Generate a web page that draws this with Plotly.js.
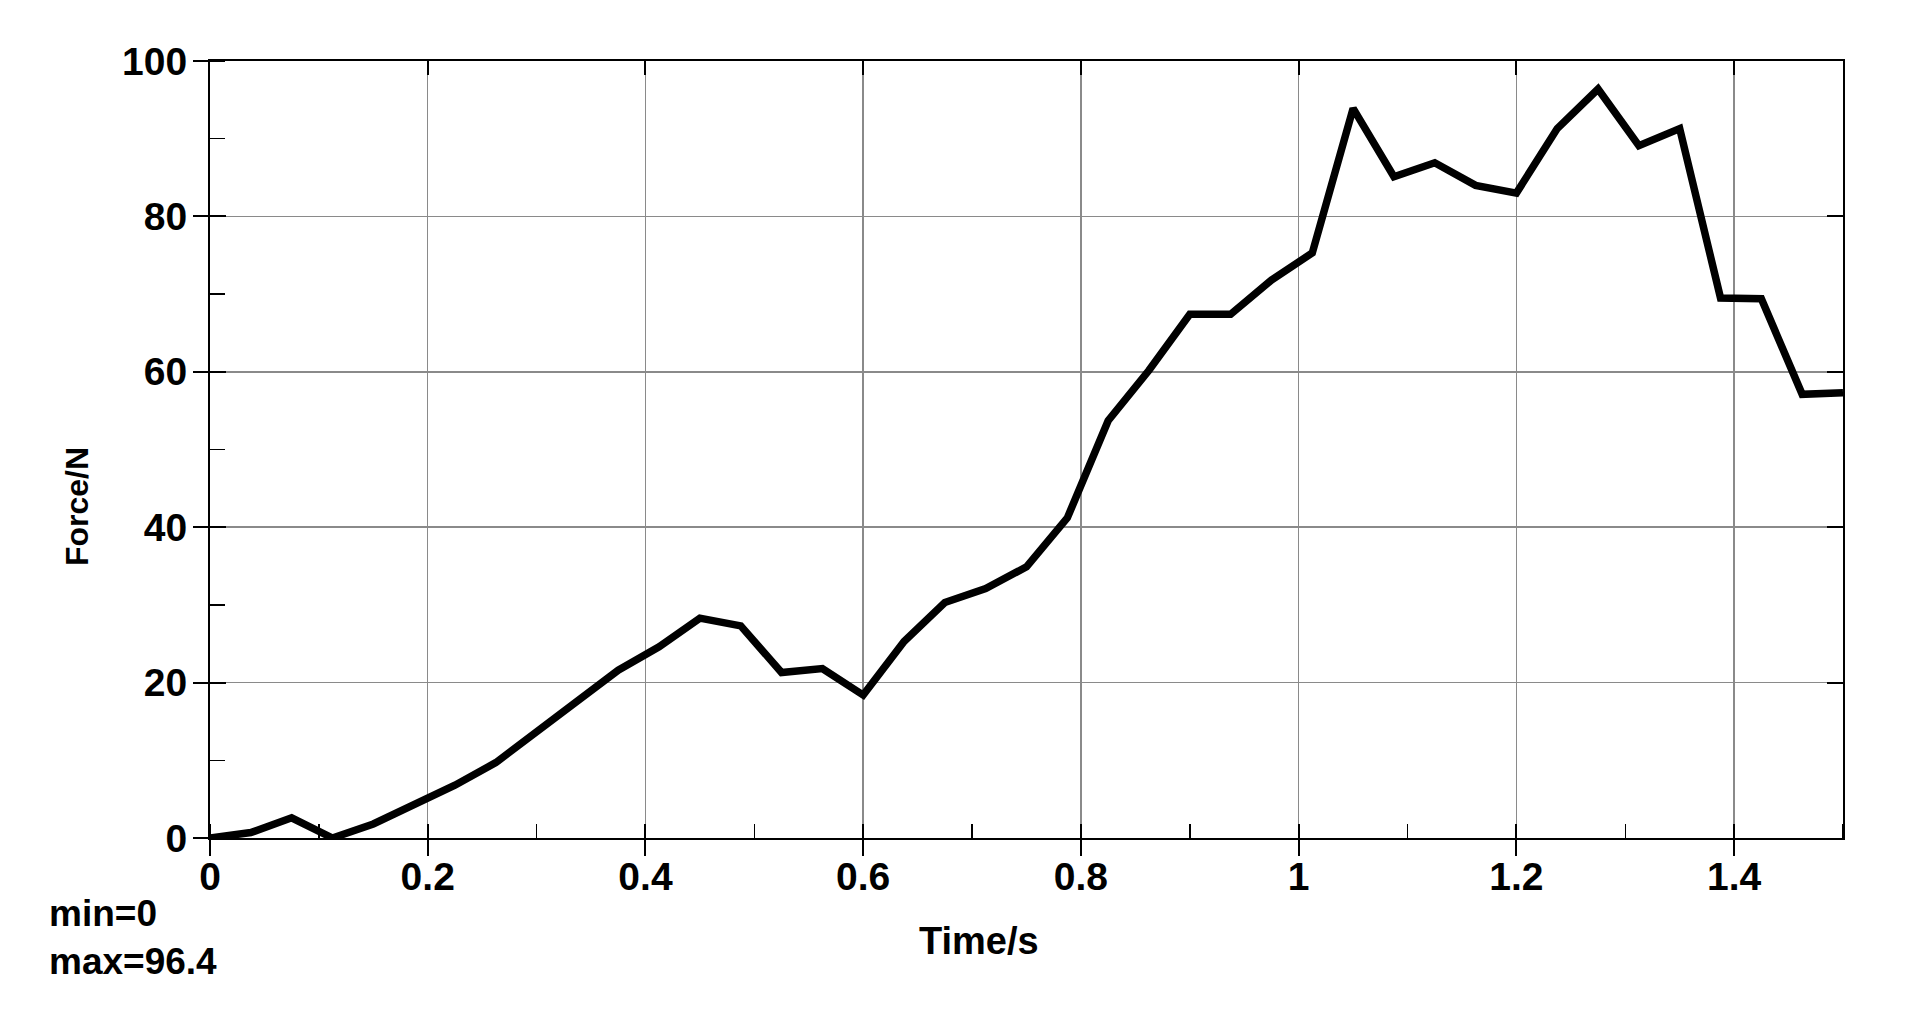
<!DOCTYPE html>
<html>
<head>
<meta charset="utf-8">
<script src="https://cdn.plot.ly/plotly-3.0.1.min.js"></script>
<style>
  html, body { margin: 0; padding: 0; background: #ffffff; }
  #chart { width: 1908px; height: 1009px; }
</style>
</head>
<body>
<div id="chart"></div>
<script>
// Time axis samples (s)
const timeS = [0, 0.0375, 0.075, 0.1125, 0.15, 0.1875, 0.225, 0.2625, 0.3, 0.3375,
  0.375, 0.4125, 0.45, 0.4875, 0.525, 0.5625, 0.6, 0.6375, 0.675, 0.7125,
  0.75, 0.7875, 0.825, 0.8625, 0.9, 0.9375, 0.975, 1.0125, 1.05, 1.0875,
  1.125, 1.1625, 1.2, 1.2375, 1.275, 1.3125, 1.35, 1.3875, 1.425, 1.4625, 1.5];
// Force values (N)
const forceN = [0, 0.7, 2.6, 0, 1.8, 4.3, 6.8, 9.7, 13.6, 17.4,
  21.6, 24.6, 28.3, 27.3, 21.3, 21.8, 18.4, 25.3, 30.3, 32.1,
  34.9, 41.2, 53.7, 60.2, 67.4, 67.4, 71.8, 75.3, 93.9, 85.1,
  86.9, 84.0, 83.0, 91.3, 96.4, 89.1, 91.3, 69.5, 69.4, 57.1, 57.3];
// Tick values / labels
const xTicks = [0, 0.2, 0.4, 0.6, 0.8, 1, 1.2, 1.4];
const xTickText = ['0', '0.2', '0.4', '0.6', '0.8', '1', '1.2', '1.4'];
const yTicks = [0, 20, 40, 60, 80, 100];
const yTickText = ['0', '20', '40', '60', '80', '100'];
const xTitle = 'Time/s';
const yTitle = 'Force/N';

const FONT = '"Liberation Sans", Arial, sans-serif';
const tickFont = { family: FONT, size: 39, color: '#000000', weight: 'bold' };

const traces = [
  {
    x: timeS, y: forceN, type: 'scatter', mode: 'lines',
    line: { color: '#000000', width: 7.5 },
    xaxis: 'x', yaxis: 'y', showlegend: false, hoverinfo: 'x+y'
  },
  { x: [], y: [], type: 'scatter', mode: 'lines', xaxis: 'x2', yaxis: 'y', showlegend: false, hoverinfo: 'skip' },
  { x: [], y: [], type: 'scatter', mode: 'lines', xaxis: 'x', yaxis: 'y2', showlegend: false, hoverinfo: 'skip' }
];

const minV = Math.min(...forceN);
const maxV = Math.max(...forceN);

const layout = {
  width: 1908, height: 1009,
  margin: { l: 210, r: 65, t: 61, b: 171 },
  paper_bgcolor: '#ffffff', plot_bgcolor: '#ffffff',
  font: { family: FONT, color: '#000000' },
  xaxis: {
    range: [0, 1.5], tickmode: 'array', tickvals: xTicks, ticktext: xTickText,
    ticks: 'inside', ticklen: 14, tickwidth: 2, tickcolor: '#000000',
    showline: true, linecolor: '#000000', linewidth: 2, mirror: 'ticks',
    showgrid: true, gridcolor: '#8a8a8a', gridwidth: 1.5,
    zeroline: false, showticklabels: false, fixedrange: true
  },
  xaxis2: {
    overlaying: 'x', anchor: 'y', side: 'bottom',
    range: [0, 1.5], tickmode: 'array', tickvals: xTicks, ticktext: xTickText,
    ticks: 'outside', ticklen: 17, tickwidth: 2, tickcolor: '#000000',
    showline: false, showgrid: false, zeroline: false,
    showticklabels: true, tickfont: tickFont, ticklabelstandoff: -13,
    minor: { dtick: 0.1, tick0: 0, ticks: 'inside', ticklen: 14, tickwidth: 1.5, tickcolor: '#000000', showgrid: false },
    fixedrange: true
  },
  yaxis: {
    range: [0, 100], tickmode: 'array', tickvals: yTicks, ticktext: yTickText,
    ticks: 'inside', ticklen: 16, tickwidth: 2, tickcolor: '#000000',
    showline: true, linecolor: '#000000', linewidth: 2, mirror: 'ticks',
    showgrid: true, gridcolor: '#8a8a8a', gridwidth: 1.5,
    zeroline: false, showticklabels: false, fixedrange: true
  },
  yaxis2: {
    overlaying: 'y', anchor: 'x', side: 'left',
    range: [0, 100], tickmode: 'array', tickvals: yTicks, ticktext: yTickText,
    ticks: 'outside', ticklen: 16, tickwidth: 2, tickcolor: '#000000',
    showline: false, showgrid: false, zeroline: false,
    showticklabels: true, tickfont: tickFont, ticklabelstandoff: -2,
    minor: { dtick: 10, tick0: 0, ticks: 'inside', ticklen: 15, tickwidth: 1.5, tickcolor: '#000000', showgrid: false },
    fixedrange: true
  },
  annotations: [
    {
      text: xTitle, xref: 'paper', yref: 'paper', x: 0.4709, y: -0.132,
      xanchor: 'center', yanchor: 'middle', showarrow: false,
      font: { family: FONT, size: 38, color: '#000000', weight: 'bold' }
    },
    {
      text: yTitle, xref: 'paper', yref: 'paper', x: -0.0814, y: 0.426,
      xanchor: 'center', yanchor: 'middle', textangle: -90, showarrow: false,
      font: { family: FONT, size: 32, color: '#000000', weight: 'bold' }
    },
    {
      text: 'min=' + minV + '<br>max=' + maxV, xref: 'paper', yref: 'paper',
      x: -0.0998, y: -0.128, xanchor: 'left', yanchor: 'middle', align: 'left',
      showarrow: false,
      font: { family: FONT, size: 37, color: '#000000', weight: 'bold' }
    }
  ]
};

Plotly.newPlot('chart', traces, layout, { displayModeBar: false, staticPlot: true });
</script>
</body>
</html>
